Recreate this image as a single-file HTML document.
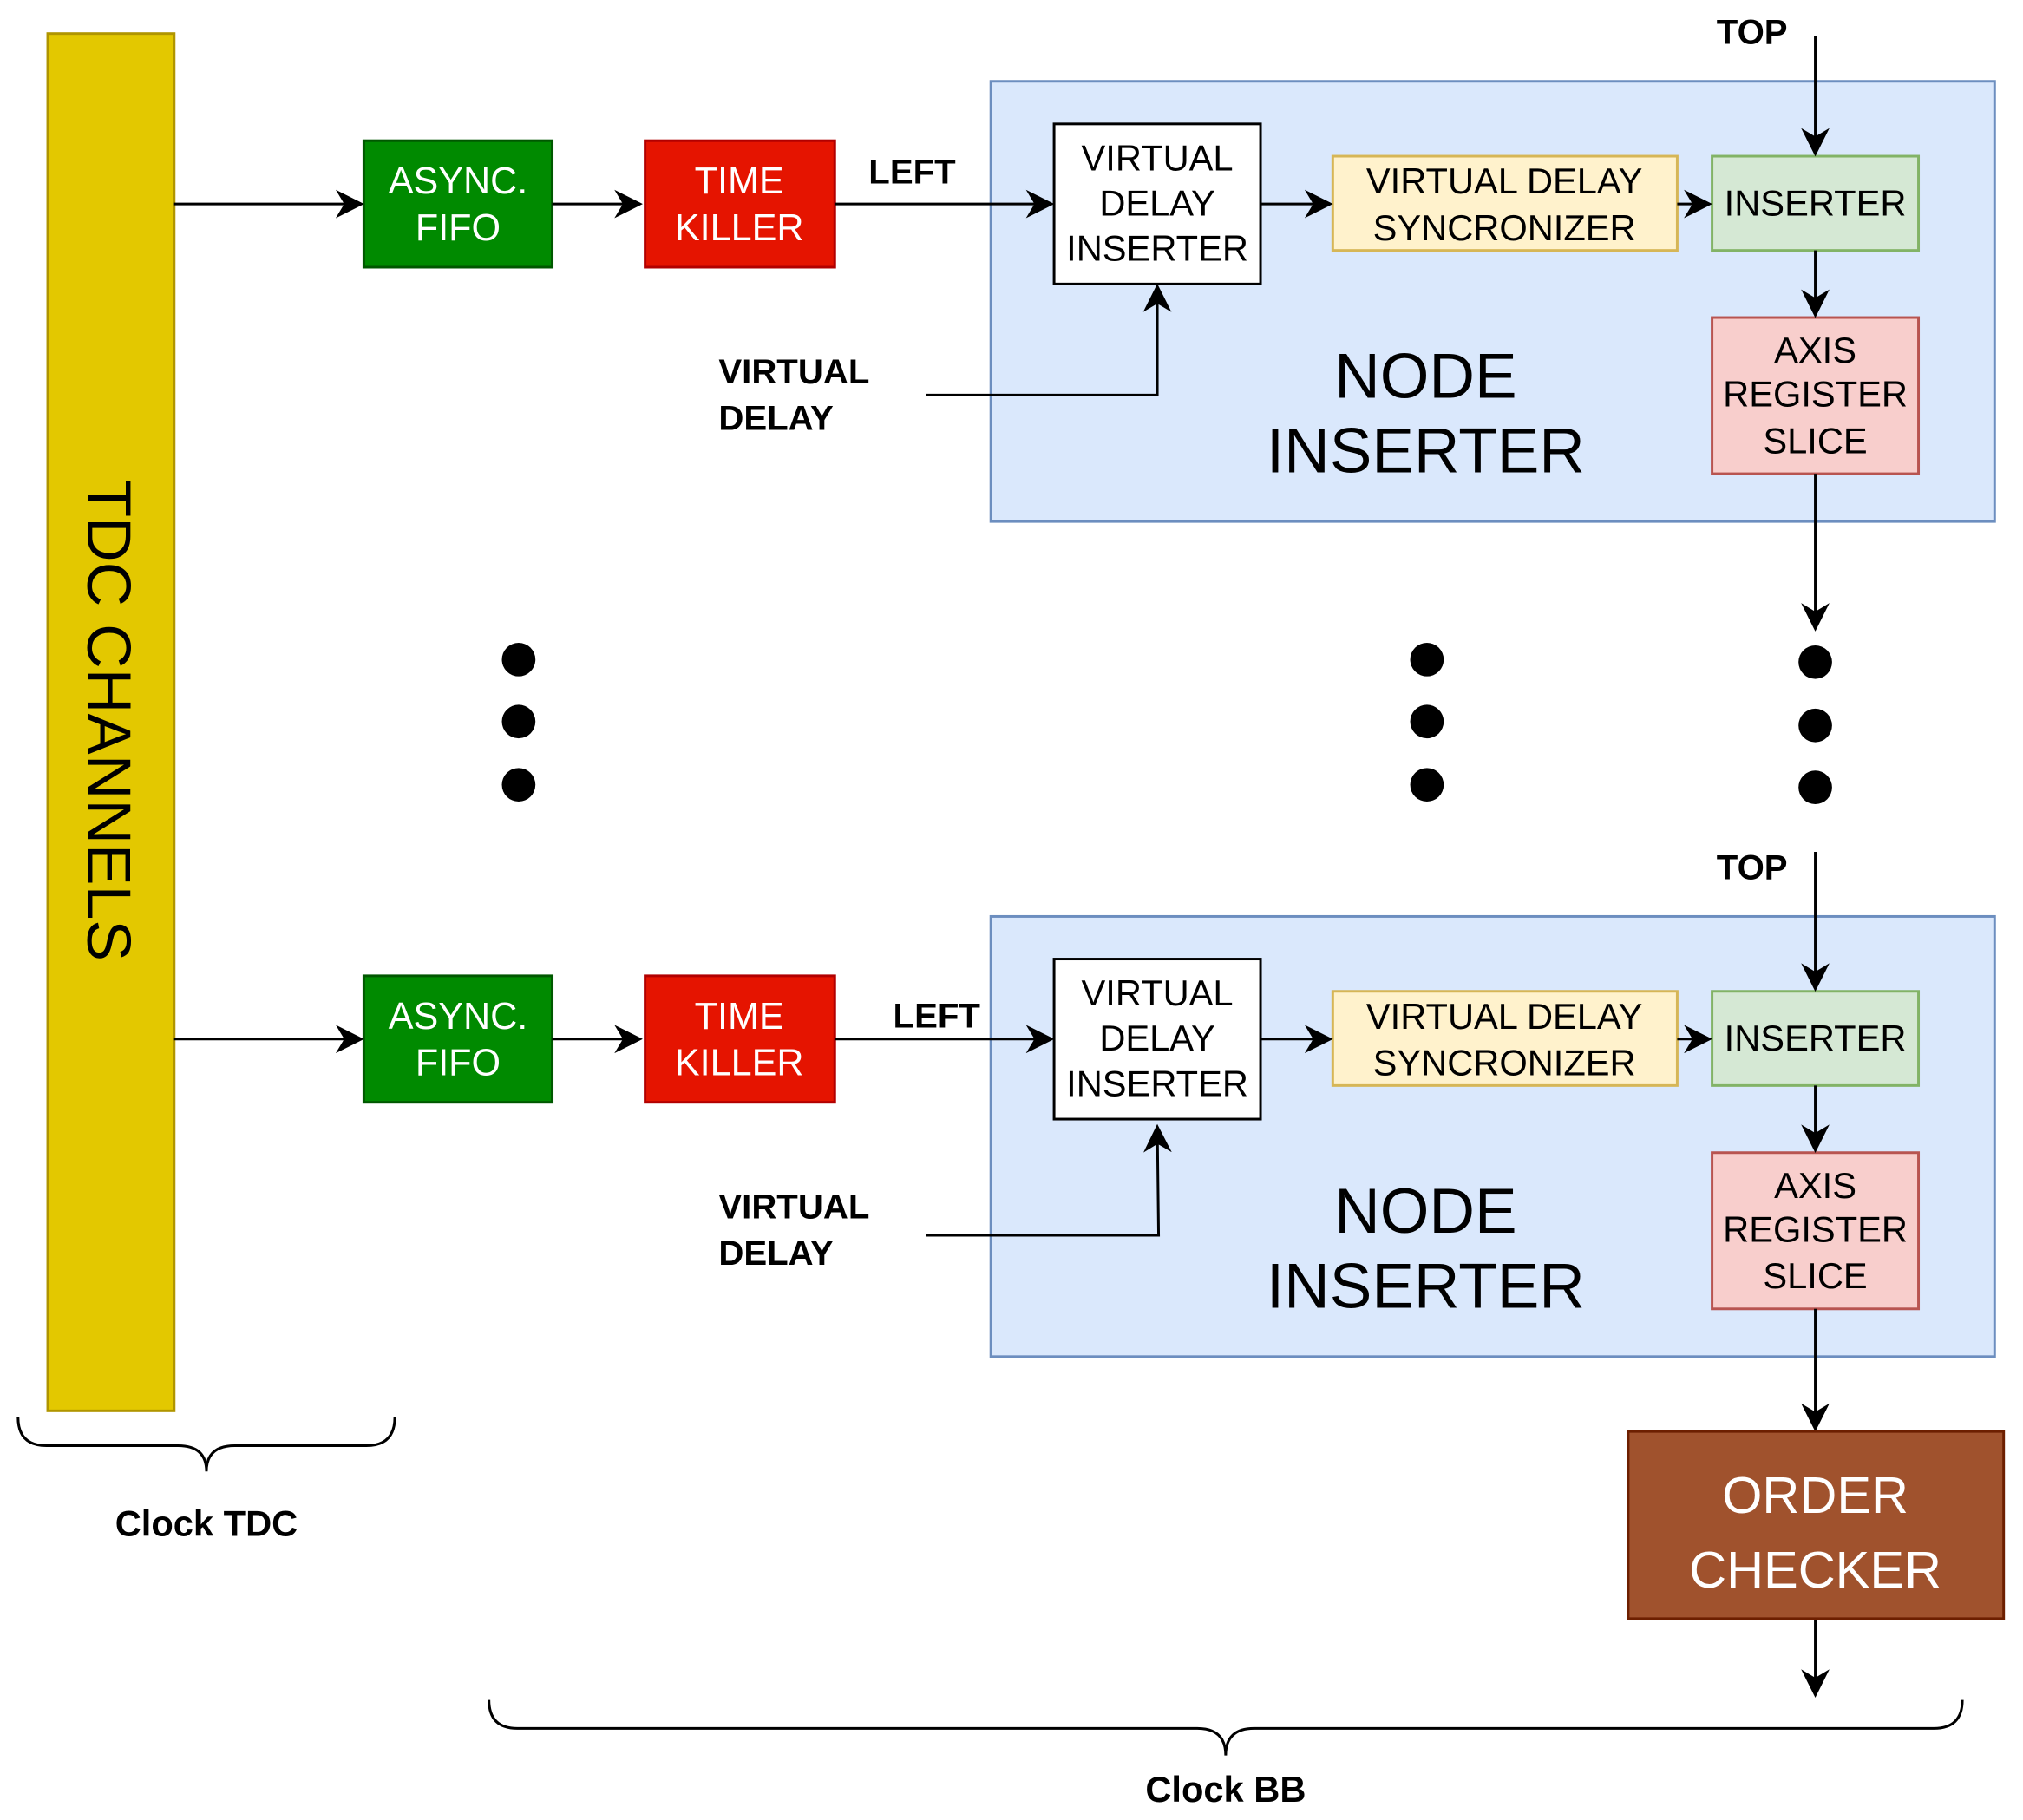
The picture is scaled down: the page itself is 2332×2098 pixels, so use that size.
<!DOCTYPE html>
<html><head><meta charset="utf-8"><style>html,body{margin:0;padding:0;background:#fff}svg{display:block}</style></head>
<body>
<svg width="2332" height="2098" viewBox="0 0 1568 1410" preserveAspectRatio="none" xmlns="http://www.w3.org/2000/svg" font-family="Liberation Sans, sans-serif">
<defs>
<marker id="b" viewBox="0 0 10 10" refX="9" refY="5" markerWidth="22" markerHeight="22" markerUnits="userSpaceOnUse" orient="auto">
<path d="M0,0 L10,5 L0,10 L3,5 z" fill="#000"/></marker>
</defs>
<rect x="37" y="26" width="98" height="1067" fill="#e3c800" stroke="#b09500" stroke-width="2"/>
<text transform="translate(68,558) rotate(90)" font-size="48" text-anchor="middle" fill="#000">TDC CHANNELS</text>

<g id="blk">
<rect x="768" y="63" width="778" height="341" fill="#dae8fc" stroke="#6c8ebf" stroke-width="2"/>
<rect x="282" y="109" width="146" height="98" fill="#008a00" stroke="#005700" stroke-width="2"/>
<text x="355" y="150" font-size="29" fill="#fff" text-anchor="middle">ASYNC.</text>
<text x="355" y="186" font-size="29" fill="#fff" text-anchor="middle">FIFO</text>
<rect x="500" y="109" width="147" height="98" fill="#e51400" stroke="#b20000" stroke-width="2"/>
<text x="573" y="150" font-size="29" fill="#fff" text-anchor="middle">TIME</text>
<text x="573" y="186" font-size="29" fill="#fff" text-anchor="middle">KILLER</text>
<rect x="817" y="96" width="160" height="124" fill="#fff" stroke="#000" stroke-width="2"/>
<text x="897" y="132" font-size="28" text-anchor="middle">VIRTUAL</text>
<text x="897" y="167" font-size="28" text-anchor="middle">DELAY</text>
<text x="897" y="202" font-size="28" text-anchor="middle">INSERTER</text>
<rect x="1033" y="121" width="267" height="73" fill="#fff2cc" stroke="#d6b656" stroke-width="2"/>
<text x="1166" y="150" font-size="28" text-anchor="middle">VIRTUAL DELAY</text>
<text x="1166" y="186" font-size="28" text-anchor="middle">SYNCRONIZER</text>
<rect x="1327" y="121" width="160" height="73" fill="#d5e8d4" stroke="#82b366" stroke-width="2"/>
<text x="1407" y="167" font-size="28" text-anchor="middle">INSERTER</text>
<rect x="1327" y="246" width="160" height="121" fill="#f8cecc" stroke="#b85450" stroke-width="2"/>
<text x="1407" y="281" font-size="28" text-anchor="middle">AXIS</text>
<text x="1407" y="315" font-size="28" text-anchor="middle">REGISTER</text>
<text x="1407" y="351" font-size="28" text-anchor="middle">SLICE</text>
<text x="1105" y="308" font-size="49" text-anchor="middle">NODE</text>
<text x="1105" y="366" font-size="49" text-anchor="middle">INSERTER</text>
<g stroke="#000" stroke-width="2" fill="none">
<line x1="135" y1="158" x2="280" y2="158" marker-end="url(#b)"/>
<line x1="428" y1="158" x2="496" y2="158" marker-end="url(#b)"/>
<line x1="647" y1="158" x2="815" y2="158" marker-end="url(#b)"/>
<line x1="977" y1="158" x2="1031" y2="158" marker-end="url(#b)"/>
<line x1="1300" y1="158" x2="1325" y2="158" marker-end="url(#b)"/>
<line x1="1407" y1="194" x2="1407" y2="244" marker-end="url(#b)"/>
</g>
<text x="557" y="297" font-size="27" font-weight="bold">VIRTUAL</text>
<text x="557" y="333" font-size="27" font-weight="bold">DELAY</text>
</g>
<use href="#blk" transform="translate(0,647)"/>

<g stroke="#000" stroke-width="2" fill="none">
<polyline points="718,306 897,306 897,222" marker-end="url(#b)"/>
<polyline points="718,957 898,957 897,873" marker-end="url(#b)"/>
<line x1="1407" y1="28" x2="1407" y2="119" marker-end="url(#b)"/>
<line x1="1407" y1="367" x2="1407" y2="487" marker-end="url(#b)"/>
<line x1="1407" y1="660" x2="1407" y2="766" marker-end="url(#b)"/>
<line x1="1407" y1="1014" x2="1407" y2="1107" marker-end="url(#b)"/>
<line x1="1407" y1="1254" x2="1407" y2="1313" marker-end="url(#b)"/>
<path d="M14,1098 Q14,1120 36,1120 L138,1120 Q160,1120 160,1140 Q160,1120 182,1120 L284,1120 Q306,1120 306,1098"/>
<path d="M379,1317 Q379,1339 401,1339 L928,1339 Q950,1339 950,1360 Q950,1339 972,1339 L1499,1339 Q1521,1339 1521,1317"/>
</g>
<text x="707" y="142" font-size="27" font-weight="bold" text-anchor="middle">LEFT</text>
<rect x="690" y="772" width="72" height="26" fill="#fff"/>
<text x="726" y="796" font-size="27" font-weight="bold" text-anchor="middle">LEFT</text>
<text x="1358" y="34" font-size="27" font-weight="bold" text-anchor="middle">TOP</text>
<text x="1358" y="681" font-size="27" font-weight="bold" text-anchor="middle">TOP</text>
<g fill="#000">
<circle cx="402" cy="511" r="13"/><circle cx="402" cy="559" r="13"/><circle cx="402" cy="608" r="13"/>
<circle cx="1106" cy="511" r="13"/><circle cx="1106" cy="559" r="13"/><circle cx="1106" cy="608" r="13"/>
<circle cx="1407" cy="513" r="13"/><circle cx="1407" cy="562" r="13"/><circle cx="1407" cy="610" r="13"/>
</g>
<rect x="1262" y="1109" width="291" height="145" fill="#a0522d" stroke="#6d1f00" stroke-width="2"/>
<text x="1407" y="1172" font-size="40" fill="#fff" text-anchor="middle">ORDER</text>
<text x="1407" y="1230" font-size="40" fill="#fff" text-anchor="middle">CHECKER</text>
<text x="160" y="1190" font-size="28" font-weight="bold" text-anchor="middle">Clock TDC</text>
<text x="950" y="1396" font-size="28" font-weight="bold" text-anchor="middle">Clock BB</text>
</svg>
</body></html>
